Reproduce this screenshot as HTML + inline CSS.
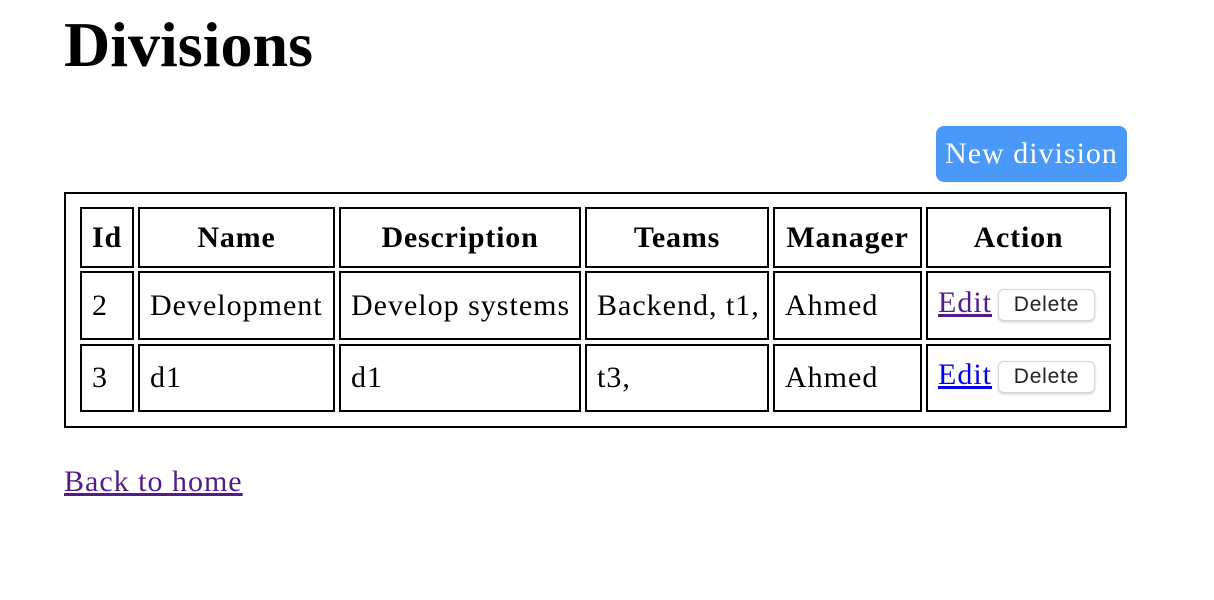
<!DOCTYPE html>
<html><head><meta charset="utf-8"><style>
body{margin:0;width:1214px;height:600px;background:#fff;font-family:"Liberation Serif",serif;position:relative;overflow:hidden}
.a{position:absolute}
.c{position:absolute;box-sizing:border-box;border:2px solid #000;font-size:30px;letter-spacing:1px;display:flex;align-items:center;padding-left:10px;white-space:nowrap}
.h{font-weight:bold;justify-content:center;padding-left:0;letter-spacing:0.8px}
.del{position:absolute;box-sizing:border-box;border:1px solid #d6d6d6;border-radius:6px;background:#fff;box-shadow:0 1px 2px rgba(0,0,0,.2);font-family:"Liberation Sans",sans-serif;font-size:21px;letter-spacing:0.8px;color:#222;display:flex;align-items:center;justify-content:center;width:97px;height:32px}
a{text-decoration:underline}
</style></head><body>
<div class="a" style="left:64px;top:8px;font-size:64px;font-weight:bold;line-height:74px">Divisions</div>
<div class="a" style="left:936px;top:126px;width:191px;height:56px;background:#4a98f7;border-radius:8px;color:#fff;font-size:30px;letter-spacing:1px;display:flex;align-items:center;justify-content:center">New division</div>
<div class="a" style="left:64px;top:192px;width:1063px;height:236px;box-sizing:border-box;border:2px solid #000"></div>

<div class="c h" style="left:80px;top:207px;width:54px;height:61px">Id</div>
<div class="c h" style="left:138px;top:207px;width:197px;height:61px">Name</div>
<div class="c h" style="left:339px;top:207px;width:242px;height:61px">Description</div>
<div class="c h" style="left:585px;top:207px;width:184px;height:61px">Teams</div>
<div class="c h" style="left:773px;top:207px;width:149px;height:61px">Manager</div>
<div class="c h" style="left:926px;top:207px;width:185px;height:61px">Action</div>

<div class="c" style="left:80px;top:271px;width:54px;height:69px">2</div>
<div class="c" style="left:138px;top:271px;width:197px;height:69px">Development</div>
<div class="c" style="left:339px;top:271px;width:242px;height:69px">Develop systems</div>
<div class="c" style="left:585px;top:271px;width:184px;height:69px">Backend, t1,</div>
<div class="c" style="left:773px;top:271px;width:149px;height:69px">Ahmed</div>
<div class="c" style="left:926px;top:271px;width:185px;height:69px"><a style="color:#551a8b;margin-top:-6px">Edit</a></div>
<div class="del" style="left:998px;top:289px">Delete</div>

<div class="c" style="left:80px;top:344px;width:54px;height:68px">3</div>
<div class="c" style="left:138px;top:344px;width:197px;height:68px">d1</div>
<div class="c" style="left:339px;top:344px;width:242px;height:68px">d1</div>
<div class="c" style="left:585px;top:344px;width:184px;height:68px">t3,</div>
<div class="c" style="left:773px;top:344px;width:149px;height:68px">Ahmed</div>
<div class="c" style="left:926px;top:344px;width:185px;height:68px"><a style="color:#0000ee;margin-top:-6px">Edit</a></div>
<div class="del" style="left:998px;top:361px">Delete</div>

<div class="a" style="left:64px;top:462px;font-size:30px;letter-spacing:1px;line-height:40px"><a style="color:#551a8b">Back to home</a></div>
</body></html>
